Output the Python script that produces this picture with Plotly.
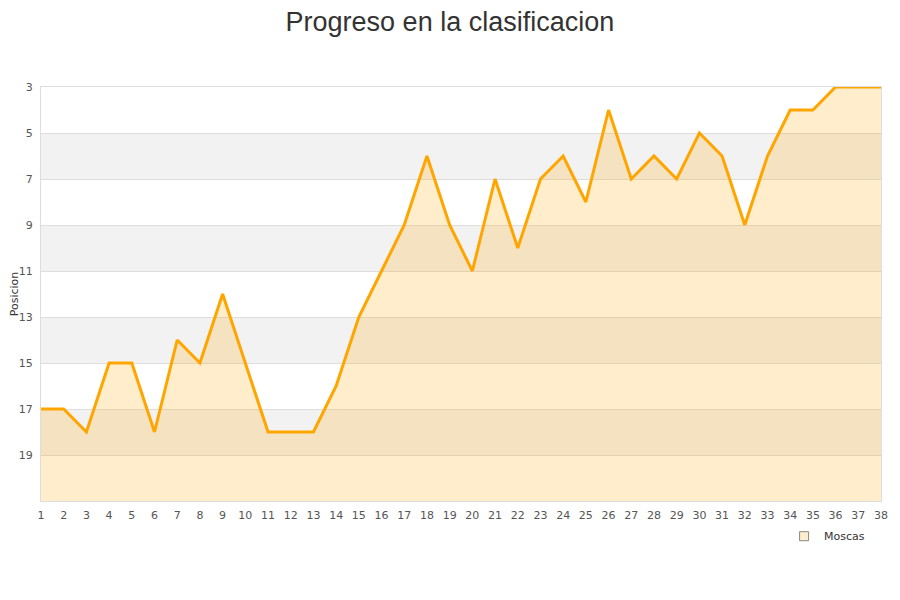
import plotly.graph_objects as go

rounds = list(range(1, 39))
positions = [17, 17, 18, 15, 15, 18, 14, 15, 12, 15,
             18, 18, 18, 16, 13, 11, 9, 6, 9, 11,
             7, 10, 7, 6, 8, 4, 7, 6, 7, 5,
             6, 9, 6, 4, 4, 3, 3, 3]
y_ticks = [3, 5, 7, 9, 11, 13, 15, 17, 19]
y_min, y_max = 3, 21
team = "Moscas"
title = "Progreso en la clasificacion"
y_title = "Posicion"

line_color = "#FFA500"
fill_color = "rgba(255,165,0,0.2)"

fig = go.Figure()

# baseline for the area fill (bottom of the reversed axis)
fig.add_trace(go.Scatter(x=rounds, y=[y_max] * len(rounds), mode="lines",
                         line=dict(width=0), showlegend=False, hoverinfo="skip"))
fig.add_trace(go.Scatter(x=rounds, y=positions, mode="lines", fill="tonexty",
                         fillcolor=fill_color, line=dict(color=line_color, width=3),
                         name=team, showlegend=False))
fig.add_trace(go.Scatter(x=[None], y=[None], mode="markers", name=team,
                         marker=dict(symbol="square", size=9, color="#FFEDCC",
                                     line=dict(color="#888", width=1))))

shapes = []
for i in range(1, len(y_ticks), 2):
    lo = y_ticks[i]
    hi = y_ticks[i + 1] if i + 1 < len(y_ticks) else y_max
    shapes.append(dict(type="rect", xref="paper", yref="y", x0=0, x1=1, y0=lo, y1=hi,
                       fillcolor="#F2F2F2", line=dict(width=0), layer="below"))

fig.update_layout(
    width=900, height=600,
    paper_bgcolor="white", plot_bgcolor="white",
    margin=dict(l=33, r=27, t=79, b=107),
    title=dict(text=title, x=0.491, xanchor="center", y=0.977, yanchor="middle",
               font=dict(family="Liberation Sans, Arial, sans-serif", size=27, color="#333")),
    font=dict(family="DejaVu Sans, sans-serif", size=11, color="#555"),
    shapes=shapes,
    showlegend=True,
    legend=dict(x=0.987, xanchor="right", y=-0.05, yanchor="top", orientation="h",
                font=dict(size=11, color="#333"), bgcolor="rgba(0,0,0,0)"),
)
fig.update_xaxes(range=[rounds[0], rounds[-1]], tickmode="array", tickvals=rounds,
                 ticktext=[str(r) for r in rounds], showgrid=False, zeroline=False,
                 showline=True, linecolor="#ddd", mirror=True, ticks="",
                 ticklabelstandoff=4,
                 tickfont=dict(size=11, color="#555"))
fig.update_yaxes(range=[y_max, y_min], tickmode="array", tickvals=y_ticks,
                 showgrid=True, gridcolor="#ddd", zeroline=False,
                 showline=True, linecolor="#ddd", mirror=True, ticks="",
                 ticklabelstandoff=5,
                 tickfont=dict(size=11, color="#555"),
                 title=dict(text=y_title, font=dict(size=11, color="#333"), standoff=16),
                 automargin=False)

fig.write_html("out.html")
